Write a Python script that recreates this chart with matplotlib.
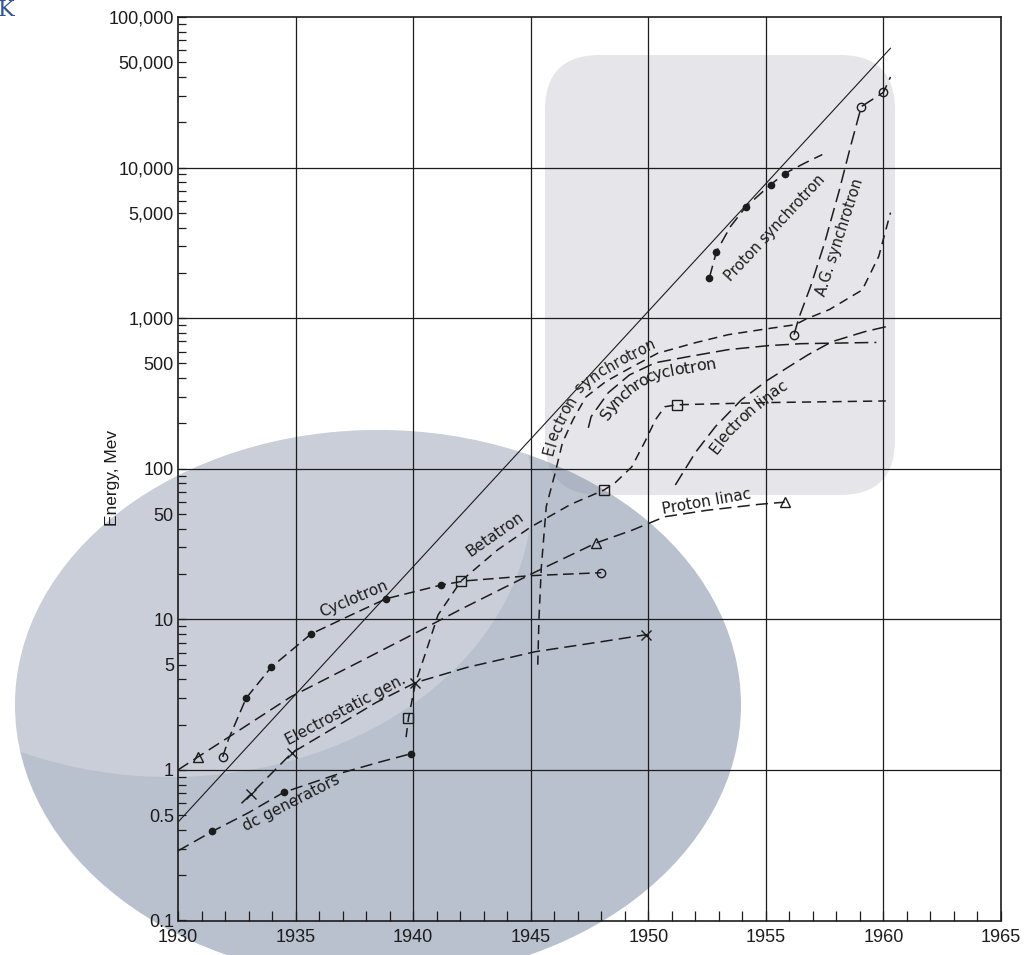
import numpy as np
import matplotlib
matplotlib.use("Agg")
import matplotlib.pyplot as plt
from matplotlib.patches import Ellipse, FancyBboxPatch
from matplotlib.font_manager import FontProperties
from matplotlib.ticker import FixedLocator, FixedFormatter, NullFormatter

plt.rcParams['font.family'] = ['Liberation Sans', 'DejaVu Sans']

# ---- values (year, energy in MeV) ----
trend_years = [1930.0, 1960.3]
trend_mev = [0.45, 62000]

dc_years = [1930.0, 1931.45, 1933.0, 1934.5, 1936.9, 1938.6, 1939.9]
dc_mev = [0.29, 0.39, 0.52, 0.71, 0.95, 1.13, 1.28]
dc_dots = [1, 3, 6]

es_years = [1932.7, 1933.1, 1934.85, 1936.7, 1938.4, 1940.1, 1942.3, 1945.2, 1948.0, 1949.9]
es_mev = [0.6, 0.69, 1.30, 1.93, 2.79, 3.8, 4.8, 6.1, 7.1, 7.9]
es_crosses = [1, 2, 5, 9]

cyc_years = [1931.9, 1932.15, 1932.9, 1933.96, 1935.66, 1937.2, 1938.85, 1941.2, 1942.2, 1945.0, 1948.0]
cyc_mev = [1.22, 1.6, 3.0, 4.8, 8.0, 10.4, 13.7, 16.9, 18.0, 19.5, 20.4]
cyc_dots = [2, 3, 4, 6, 7]
cyc_circles = [0, 10]

bet_years = [1939.7, 1939.8, 1940.1, 1940.5, 1941.06, 1942.04, 1943.6, 1945.0, 1946.7,
             1948.1, 1948.6, 1949.3, 1949.9, 1950.3, 1950.7, 1951.2, 1955.0, 1960.1]
bet_mev = [1.65, 2.2, 3.8, 5.8, 10.7, 18.0, 29, 41, 58, 72, 81, 103, 156, 211, 258, 266, 275, 282]
bet_squares = [1, 5, 9, 15]

pl_years = [1930.0, 1930.85, 1932.1, 1934.8, 1937.96, 1940.09, 1942.0, 1945.19, 1947.79,
            1949.3, 1950.7, 1952.5, 1954.7, 1955.8]
pl_mev = [1.0, 1.22, 1.63, 3.06, 5.46, 8.1, 11.6, 20.6, 32.2, 39, 48, 53, 58, 60]
pl_triangles = [1, 8, 13]

esy_years = [1945.3, 1945.35, 1945.45, 1945.66, 1946.04, 1946.35, 1946.8, 1947.35, 1948.2, 1949.15,
             1950.4, 1952.0, 1953.4, 1954.8, 1956.25, 1956.7, 1957.7, 1959.1, 1959.8, 1960.3]
esy_mev = [5.0, 10, 22, 56, 94, 149, 212, 300, 380, 460,
           585, 687, 777, 839, 905, 985, 1140, 1540, 2570, 5020]

sc_years = [1947.45, 1947.57, 1948.3, 1949.2, 1950.3, 1951.7, 1953.4, 1955.1, 1956.5, 1959.7]
sc_mev = [187, 222, 320, 420, 506, 555, 618, 657, 677, 690]

el_years = [1951.15, 1952.0, 1952.85, 1953.96, 1955.1, 1956.25, 1956.8, 1957.8, 1959.2, 1960.1]
el_mev = [78, 128, 190, 287, 390, 506, 572, 697, 813, 877]

ps_years = [1952.6, 1952.9, 1953.5, 1954.15, 1955.2, 1955.8, 1956.7, 1957.4]
ps_mev = [1860, 2770, 4070, 5490, 7700, 9130, 10800, 12200]
ps_dots = [0, 1, 3, 4, 5]

ag_years = [1956.2, 1956.4, 1956.9, 1957.5, 1958.1, 1958.6, 1959.06, 1960.0, 1960.3]
ag_mev = [778, 1000, 1620, 3170, 6850, 13800, 25400, 31600, 40000]
ag_circles = [0, 6, 7]

# straight curve labels: text, year, MeV, rotation, size
labels = [
    ("dc generators", 1934.8, 0.60, 27, 11),
    ("Electrostatic gen.", 1937.15, 2.5, 28, 11),
    ("Cyclotron", 1937.45, 13.6, 23, 11),
    ("Betatron", 1943.5, 36.5, 35, 11),
    ("Proton linac", 1952.5, 60.5, 10, 11),
    ("Proton synchrotron", 1955.4, 4000, 47, 10.5),
    ("A.G. synchrotron", 1958.15, 3430, 72, 10.5),
]

ytick_vals = [0.1, 0.5, 1, 5, 10, 50, 100, 500, 1000, 5000, 10000, 50000, 100000]
ytick_text = ['0.1', '0.5', '1', '5', '10', '50', '100', '500',
              '1,000', '5,000', '10,000', '50,000', '100,000']

INK = '#1c1c1c'
LABEL_FONT = ['DejaVu Sans']
W, H = 1029, 955
fig = plt.figure(figsize=(W / 100, H / 100), dpi=100)

# slide decorations behind the chart, in pixel coordinates
bg = fig.add_axes([0, 0, 1, 1], zorder=0)
bg.set_xlim(0, W)
bg.set_ylim(H, 0)
bg.axis('off')
bg.add_patch(FancyBboxPatch((545, 55), 350, 440, boxstyle="round,pad=0,rounding_size=55",
                            fc='#e6e6ea', ec='none'))
big = Ellipse((378, 705), 726, 550, fc='#6f7f99', ec='none', alpha=0.48)
bg.add_patch(big)
glow = Ellipse((170, 495), 724, 564, fc='white', ec='none', alpha=0.22)
bg.add_patch(glow)
glow.set_clip_path(big)

# the chart
ax = fig.add_axes([178 / W, 1 - 920.5 / H, (1001 - 178) / W, (920.5 - 17) / H], zorder=1)
ax.set_facecolor('none')
ax.set_yscale('log')
ax.set_xlim(1930, 1965)
ax.set_ylim(0.1, 100000)

for y in [1, 10, 100, 1000, 10000]:
    ax.axhline(y, color=INK, lw=0.9, zorder=1)
for x in range(1935, 1961, 5):
    ax.axvline(x, color=INK, lw=0.9, zorder=1)

ax.yaxis.set_major_locator(FixedLocator(ytick_vals))
ax.yaxis.set_major_formatter(FixedFormatter(ytick_text))
ax.yaxis.set_minor_locator(FixedLocator([k * 10.0 ** d for d in range(-1, 5) for k in (2, 3, 4, 6, 7, 8, 9)]))
ax.yaxis.set_minor_formatter(NullFormatter())
ax.xaxis.set_major_locator(FixedLocator(list(range(1930, 1966, 5))))
ax.xaxis.set_minor_locator(FixedLocator(list(range(1930, 1966))))
ax.tick_params(axis='y', which='both', direction='in', length=6, width=0.9, pad=3,
               labelsize=13, colors=INK)
ax.tick_params(axis='x', which='both', direction='in', length=7, width=0.9, pad=6,
               labelsize=13, colors=INK)
for s in ax.spines.values():
    s.set_linewidth(1.2)
    s.set_color(INK)


def curve(years, mev, dash=(8, 4)):
    ax.plot(years, mev, color=INK, lw=1.1, dashes=dash, zorder=3)


def marks(years, mev, idx, marker, filled=False, ms=6):
    ax.plot([years[i] for i in idx], [mev[i] for i in idx], ls='none', marker=marker, ms=ms,
            mec=INK, mfc=INK if filled else 'none', mew=1.0, zorder=4)


def along(years, mev, text, start_year, offset, size=11):
    # lay the label letter by letter along a curve, offset sideways in pixels
    pts = ax.transData.transform(np.column_stack([years, mev]))
    arc = np.concatenate([[0], np.cumsum(np.hypot(*np.diff(pts, axis=0).T))])
    s0 = np.interp(start_year, years, arc)
    rend = fig.canvas.get_renderer()
    prop = FontProperties(family=LABEL_FONT, size=size)

    def width(s):
        return rend.get_text_width_height_descent(s, prop, ismath=False)[0] if s else 0.0

    for i, ch in enumerate(text):
        s = s0 + 0.5 * (width(text[:i]) + width(text[:i + 1]))
        xa, ya = np.interp(s - 12, arc, pts[:, 0]), np.interp(s - 12, arc, pts[:, 1])
        xb, yb = np.interp(s + 12, arc, pts[:, 0]), np.interp(s + 12, arc, pts[:, 1])
        ang = np.arctan2(yb - ya, xb - xa)
        px = np.interp(s, arc, pts[:, 0]) - offset * np.sin(ang)
        py = np.interp(s, arc, pts[:, 1]) + offset * np.cos(ang)
        dx, dy = ax.transData.inverted().transform((px, py))
        ax.text(dx, dy, ch, rotation=np.degrees(ang), rotation_mode='anchor', ha='center',
                va='baseline', fontproperties=prop, color=INK, zorder=5)


ax.plot(trend_years, trend_mev, color=INK, lw=0.8, zorder=3)

curve(dc_years, dc_mev)
marks(dc_years, dc_mev, dc_dots, 'o', True, 4.5)

curve(es_years, es_mev)
marks(es_years, es_mev, es_crosses, 'x', ms=7)

curve(cyc_years, cyc_mev, (7, 3.5))
marks(cyc_years, cyc_mev, cyc_dots, 'o', True, 4.5)
marks(cyc_years, cyc_mev, cyc_circles, 'o', ms=6)

curve(bet_years, bet_mev, (6, 4))
marks(bet_years, bet_mev, bet_squares, 's', ms=7)

curve(pl_years, pl_mev)
marks(pl_years, pl_mev, pl_triangles, '^', ms=7.5)

curve(esy_years, esy_mev, (6, 4))
curve(sc_years, sc_mev, (9, 4))
curve(el_years, el_mev, (9, 4))

curve(ps_years, ps_mev)
marks(ps_years, ps_mev, ps_dots, 'o', True, 4.5)

curve(ag_years, ag_mev, (9, 4))
marks(ag_years, ag_mev, ag_circles, 'o', ms=6)

for text, yr, e, rot, size in labels:
    ax.text(yr, e, text, rotation=rot, rotation_mode='anchor', ha='center', va='center',
            family=LABEL_FONT, fontsize=size, color=INK, zorder=5)

along(esy_years, esy_mev, "Electron synchrotron", 1946.2, 6, size=10.5)
along(sc_years, sc_mev, "Synchrocyclotron", 1947.72, -16, size=11.5)
along(el_years, el_mev, "Electron linac", 1952.3, -18)

fig.text(112 / W, 1 - 478 / H, "Energy, Mev", rotation=90, ha='center', va='center',
         fontsize=12.5, color=INK)
fig.text(-2 / W, 1 - 16 / H, "K", ha='left', va='baseline', fontsize=16,
         color='#2f5597', family='DejaVu Serif')

fig.savefig('out.png', dpi=100)
